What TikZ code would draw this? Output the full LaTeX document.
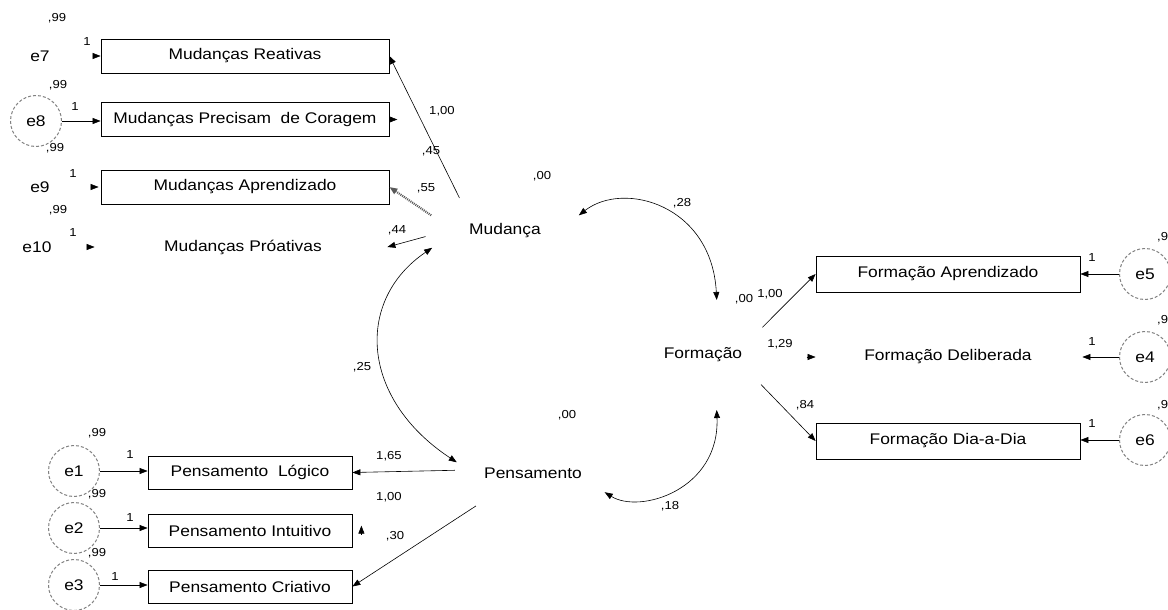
\documentclass[tikz,border=0pt]{standalone}
\usepackage{fontspec}
\setmainfont{Liberation Sans}[FakeStretch=1.13]
\usetikzlibrary{arrows.meta,shapes.geometric,calc}
\tikzset{
  bigtext/.style={font=\fontsize{15.4}{17}\selectfont},
  smalltext/.style={font=\fontsize{11.6}{13}\selectfont},
  latent/.style={ellipse, inner sep=0pt, bigtext},
  obs/.style={draw, line width=0.8pt, inner sep=0pt, bigtext},
  errtxt/.style={inner sep=0pt, bigtext},
  errc/.style={circle, draw=gray, densely dashed, line width=1pt, minimum size=51pt, inner sep=0pt, bigtext},
  lbl/.style={inner sep=0pt, smalltext},
  arrowln/.style={line width=0.6pt, -{Triangle[length=8pt,width=6pt]}},
  covar/.style={line width=0.6pt, {Triangle[length=8pt,width=6pt]}-{Triangle[length=8pt,width=6pt]}}
}
\begin{document}
\begin{tikzpicture}[x=1pt, y=-1pt]
\useasboundingbox (0,0) rectangle (1168,610);
\clip (0,0) rectangle (1168,610);
% Latent variables (text only)
\node[latent, minimum width=160pt, minimum height=80pt] (mud) at (505,231) {Mudança};
\node[latent, minimum width=156pt, minimum height=96pt] (pen) at (533,473) {Pensamento};
\node[latent, minimum width=136pt, minimum height=112pt] (frm) at (703,355) {Formação};
% Observed variables
\begin{scope}[every node/.style={minimum width=288pt, minimum height=34pt}]
  \node[obs] (mr) at (245,56) {Mudanças Reativas};
  \node[obs] (mpc) at (245,119.5) {Mudanças Precisam\ \ de Coragem};
  \node[obs] (ma) at (245,187) {Mudanças Aprendizado};
  \node[obs, draw=none] (mp) at (243,247) {Mudanças Próativas};
\end{scope}
\begin{scope}[every node/.style={minimum width=204pt, minimum height=33pt}]
  \node[obs] (pl) at (250,472.5) {Pensamento\ \ Lógico};
  \node[obs] (pi) at (250,530.5) {Pensamento Intuitivo};
  \node[obs] (pc) at (250,586.5) {Pensamento Criativo};
\end{scope}
\begin{scope}[every node/.style={minimum width=264pt, minimum height=36pt}]
  \node[obs] (fa) at (948,274) {Formação Aprendizado};
  \node[obs, draw=none] (fd) at (948,357) {Formação Deliberada};
  \node[obs] (fdd) at (948,441) {Formação Dia-a-Dia};
\end{scope}
% Error terms
\node[errtxt] (e7) at (40,56) {e7};
\node[errc] (e8) at (36,121) {e8};
\node[errtxt] (e9) at (40,187) {e9};
\node[errtxt] (e10) at (37,247) {e10};
\node[errc] (e1) at (74,471) {e1};
\node[errc] (e2) at (74,528) {e2};
\node[errc] (e3) at (74,585) {e3};
\node[errc] (e5) at (1145,274) {e5};
\node[errc] (e4) at (1145,357) {e4};
\node[errc] (e6) at (1145,440) {e6};
% Error arrows
\draw[arrowln] ([xshift=-8]mr.west) -- (mr.west);
\draw[arrowln] (e8.east) -- (e8.east -| mpc.west);
\draw[arrowln] ([xshift=-10]ma.west) -- ([xshift=-2]ma.west);
\draw[arrowln] ([xshift=-11]mp.west) -- ([xshift=-4]mp.west);
\draw[arrowln] (e1.east) -- (e1.east -| pl.west);
\draw[arrowln] (e2.east) -- (e2.east -| pi.west);
\draw[arrowln] (e3.east) -- (e3.east -| pc.west);
\draw[arrowln] (e5.west) -- (e5.west -| fa.east);
\draw[arrowln] (e4.west) -- ([xshift=2]e4.west -| fd.east);
\draw[arrowln] (e6.west) -- (e6.west -| fdd.east);
% Loadings
\draw[arrowln] (mud.144) -- (mr.east);
\draw[arrowln] (mpc.east) -- ++(8,0);
\draw[arrowln, draw=gray!70!black, line width=2.2pt, dash pattern=on 1pt off 1pt] (mud.168) -- (ma.east);
\draw[arrowln] (mud.184) -- (mp.east);
\draw[arrowln] (pen.178) -- (pl.east);
\draw[arrowln] ([shift={(9,21)}]pi.north east) -- ++(0,-9);
\draw[arrowln] (pen.210) -- (pc.east);
\draw[arrowln] (frm.25) -- (fa.west);
\draw[arrowln] ([xshift=-9]fd.west) -- (fd.west);
\draw[arrowln] (frm.-27) -- (fdd.west);
% Covariances
\draw[covar] (mud.12) .. controls +(45,-35) and +(-5,-95) .. (frm.76);
\draw[covar] (mud.193) .. controls +(-77,52) and +(-97,-64) .. (pen.172);
\draw[covar] (pen.-15) .. controls +(35,22) and +(3,80) .. (frm.-76);
% Variances and weights
\node[lbl] (v7) at (57,18) {,99};
\node[lbl] (w7) at (87,42) {1};
\node[lbl] (v8) at (58,85) {,99};
\node[lbl] (w8) at (75,107) {1};
\node[lbl] (v9) at (55,148) {,99};
\node[lbl] (w9) at (73,174) {1};
\node[lbl] (v10) at (58,210) {,99};
\node[lbl] (w10) at (73,233) {1};
\node[lbl] (v1) at (97,433) {,99};
\node[lbl] (w1) at (130,455) {1};
\node[lbl] (v2) at (97,494) {,99};
\node[lbl] (w2) at (130,518) {1};
\node[lbl] (v3) at (97,553) {,99};
\node[lbl] (w3) at (115,577) {1};
\node[lbl, anchor=west] (v5) at (1157,237) {,99};
\node[lbl] (w5) at (1092,258) {1};
\node[lbl, anchor=west] (v4) at (1157,320) {,99};
\node[lbl] (w4) at (1092,342) {1};
\node[lbl, anchor=west] (v6) at (1157,405) {,99};
\node[lbl] (w6) at (1092,424) {1};
% Path estimates
\node[lbl] (l1) at (442,111) {1,00};
\node[lbl] (l2) at (431,151) {,45};
\node[lbl] (l3) at (426,188) {,55};
\node[lbl] (l4) at (397,230) {,44};
\node[lbl] (l5) at (389,456) {1,65};
\node[lbl] (l6) at (389,497) {1,00};
\node[lbl] (l7) at (395,536) {,30};
\node[lbl] (l8) at (770,294) {1,00};
\node[lbl] (l9) at (780,344) {1,29};
\node[lbl] (l10) at (805,405) {,84};
\node[lbl] (vm) at (542,176) {,00};
\node[lbl] (vp) at (567,415) {,00};
\node[lbl] (vf) at (744,299) {,00};
\node[lbl] (c1) at (682,203) {,28};
\node[lbl] (c2) at (362,367) {,25};
\node[lbl] (c3) at (670,506) {,18};
\end{tikzpicture}
\end{document}
